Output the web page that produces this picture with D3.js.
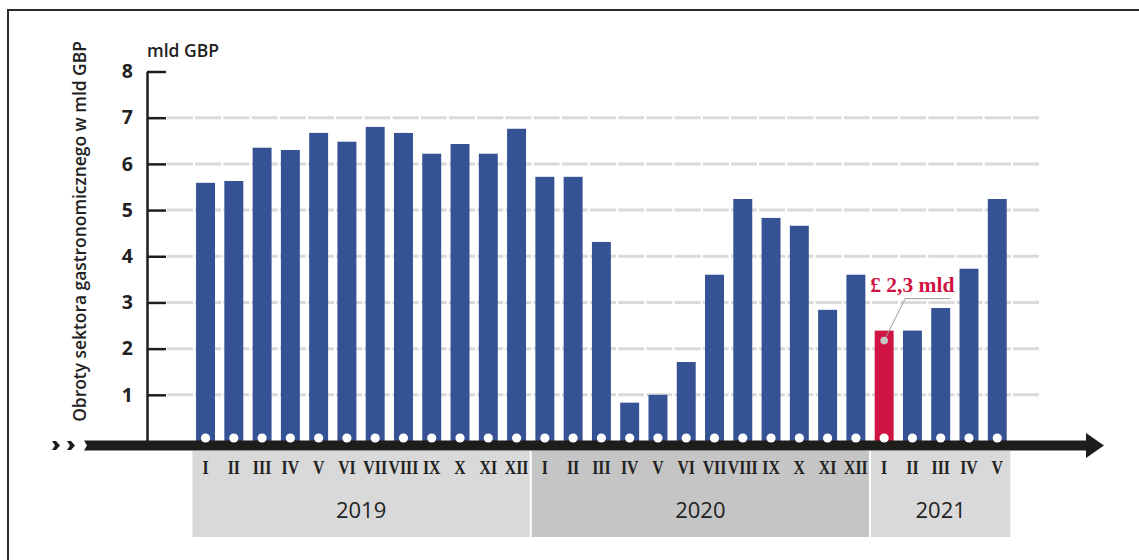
<!DOCTYPE html>
<html>
<head>
<meta charset="utf-8">
<script src="https://cdn.jsdelivr.net/npm/d3@7"></script>
<style>
  body { margin: 0; background: #fff; }
  svg { display: block; }
</style>
</head>
<body>
<svg id="chart" width="1139" height="560"></svg>
<script>
// data
const years = ['2019', '2020', '2021']
const months = ['I', 'II', 'III', 'IV', 'V', 'VI', 'VII', 'VIII', 'IX', 'X', 'XI', 'XII']
const values2019 = [5.59, 5.63, 6.35, 6.30, 6.67, 6.48, 6.80, 6.67, 6.22, 6.43, 6.22, 6.76]
const values2020 = [5.72, 5.72, 4.31, 0.83, 1.0, 1.71, 3.6, 5.24, 4.83, 4.66, 2.84, 3.6]
const values2021 = [2.39, 2.39, 2.88, 3.73, 5.24]
const yTicks = [1, 2, 3, 4, 5, 6, 7, 8]
const highlight = '2021-I'
const highlightLabel = '£ 2,3 mld'

const blue = '#355294'
const red = '#cf1442'
const ink = '#1d1d1b'

const byYear = [values2019, values2020, values2021]
const data = []
years.forEach((yr, i) => {
  byYear[i].forEach((v, j) => {
    data.push({year: yr, month: months[j], key: yr + '-' + months[j], value: v})
  })
})

const svg = d3.select('#chart')

const x = d3.scaleBand()
  .domain(data.map(d => d.key))
  .range([191.4, 1011.4])
  .paddingInner(0.33)
  .paddingOuter(0.165)

const y = d3.scaleLinear().domain([0, 8]).range([441, 71.5])

// frame
svg.append('path')
  .attr('d', 'M8,560V10H1139')
  .attr('fill', 'none')
  .attr('stroke', '#2a2a2a')
  .attr('stroke-width', 2)

// gridlines
svg.append('g')
  .selectAll('line')
  .data(yTicks.filter(t => t < 8))
  .enter()
  .append('line')
  .attr('x1', 167)
  .attr('x2', 1041)
  .attr('y1', d => y(d))
  .attr('y2', d => y(d))
  .attr('stroke', '#dadada')
  .attr('stroke-width', 3)
  .attr('stroke-dasharray', '26,2.2')

// year boxes
const step = x.step()
const gap = (step - x.bandwidth()) / 2
const boxes = years.map((yr, i) => {
  const keys = data.filter(d => d.year === yr).map(d => d.key)
  return {
    year: yr,
    x0: x(keys[0]) - gap + 1,
    x1: x(keys[keys.length - 1]) + x.bandwidth() + gap - 1,
    fill: i === 1 ? '#c5c5c5' : '#d9d9d9'
  }
})

svg.append('g')
  .selectAll('rect')
  .data(boxes)
  .enter()
  .append('rect')
  .attr('x', d => d.x0)
  .attr('width', d => d.x1 - d.x0)
  .attr('y', 451)
  .attr('height', 86)
  .attr('fill', d => d.fill)

svg.append('g')
  .selectAll('text')
  .data(boxes)
  .enter()
  .append('text')
  .attr('x', d => (d.x0 + d.x1) / 2)
  .attr('y', 518)
  .attr('text-anchor', 'middle')
  .attr('font-family', 'Open Sans')
  .attr('font-size', 22)
  .attr('fill', '#222')
  .text(d => d.year)

// month labels (narrowed serif, like the original)
svg.append('g')
  .selectAll('text')
  .data(data)
  .enter()
  .append('text')
  .attr('transform', d => `translate(${x(d.key) + x.bandwidth() / 2},474) scale(0.85,1)`)
  .attr('text-anchor', 'middle')
  .attr('font-family', 'Liberation Serif')
  .attr('font-weight', 700)
  .attr('font-size', 18.6)
  .attr('fill', '#222')
  .text(d => d.month)

// bars
svg.append('g')
  .selectAll('rect')
  .data(data)
  .enter()
  .append('rect')
  .attr('x', d => x(d.key))
  .attr('width', x.bandwidth())
  .attr('y', d => y(d.value))
  .attr('height', d => y(0) - y(d.value))
  .attr('fill', d => d.key === highlight ? red : blue)

// y axis
const yAxis = d3.axisLeft(y)
  .tickValues(yTicks)
  .tickSizeInner(-19)
  .tickSizeOuter(0)
  .tickPadding(14)

const ag = svg.append('g')
  .attr('transform', 'translate(147,0)')
  .call(yAxis)

ag.select('.domain').attr('stroke', ink).attr('stroke-width', 2.5)
ag.selectAll('.tick line').attr('stroke', ink).attr('stroke-width', 2.5)
ag.selectAll('.tick text')
  .attr('font-family', 'Open Sans')
  .attr('font-weight', 700)
  .attr('font-size', 19.5)
  .attr('fill', '#222')

svg.append('text')
  .attr('x', 147)
  .attr('y', 57)
  .attr('font-family', 'Open Sans')
  .attr('font-weight', 600)
  .attr('font-size', 17.5)
  .attr('fill', '#222')
  .text('mld GBP')

svg.append('text')
  .attr('transform', 'translate(86,231.5) rotate(-90)')
  .attr('text-anchor', 'middle')
  .attr('font-family', 'Open Sans')
  .attr('font-weight', 600)
  .attr('font-size', 17.4)
  .attr('fill', '#222')
  .text('Obroty sektora gastronomicznego w mld GBP')

// time arrow
svg.append('path')
  .attr('d', 'M84,440.5H1087V450.5H84L87,445.5Z')
  .attr('fill', ink)
svg.append('path')
  .attr('d', 'M1086,433L1104,445.5L1086,458Z')
  .attr('fill', ink)
svg.append('g')
  .selectAll('path')
  .data([52, 67])
  .enter()
  .append('path')
  .attr('d', d => `M${d},441H${d + 4}L${d + 8},445.5L${d + 4},450H${d}L${d + 3},445.5Z`)
  .attr('fill', ink)

// dots on the axis
svg.append('g')
  .selectAll('circle')
  .data(data)
  .enter()
  .append('circle')
  .attr('cx', d => x(d.key) + x.bandwidth() / 2)
  .attr('cy', 438)
  .attr('r', 4.6)
  .attr('fill', '#fff')

// annotation
const hd = data.find(d => d.key === highlight)
const hx = x(hd.key) + x.bandwidth() / 2
const hy = y(hd.value) + 10
svg.append('path')
  .attr('d', `M${hx},${hy}L${hx + 21},${y(hd.value) - 32}H${hx + 66}`)
  .attr('fill', 'none')
  .attr('stroke', '#9a9a9a')
  .attr('stroke-width', 1)
svg.append('circle')
  .attr('cx', hx)
  .attr('cy', hy)
  .attr('r', 3.8)
  .attr('fill', '#c8c8c8')
svg.append('text')
  .attr('x', hx - 14)
  .attr('y', y(hd.value) - 39)
  .attr('font-family', 'Liberation Serif')
  .attr('font-weight', 700)
  .attr('font-size', 21.5)
  .attr('fill', red)
  .text(highlightLabel)
</script>
</body>
</html>
